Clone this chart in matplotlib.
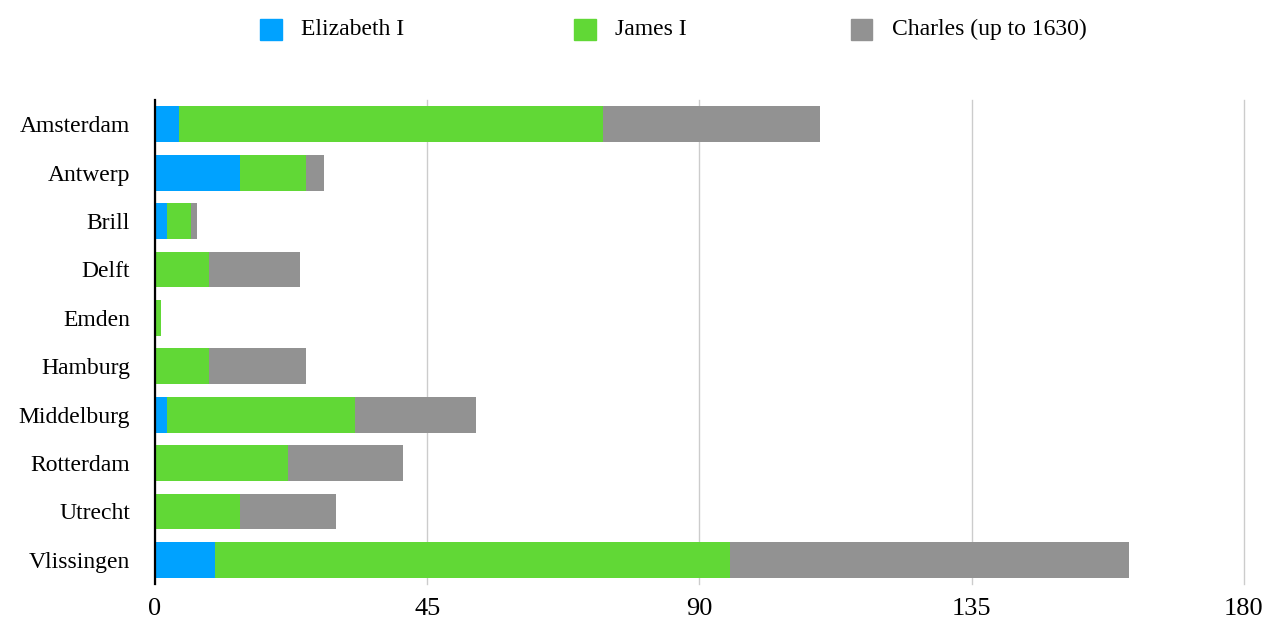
import matplotlib
matplotlib.use("Agg")
import matplotlib.pyplot as plt
import numpy as np

plt.rcParams['font.family'] = ['Liberation Serif', 'DejaVu Serif']

cities = ["Amsterdam", "Antwerp", "Brill", "Delft", "Emden", "Hamburg",
          "Middelburg", "Rotterdam", "Utrecht", "Vlissingen"]
elizabeth = [4, 14, 2, 0, 0, 0, 2, 0, 0, 10]
james = [70, 11, 4, 9, 1, 9, 31, 22, 14, 85]
charles = [36, 3, 1, 15, 0, 16, 20, 19, 16, 66]
series_names = ["Elizabeth I", "James I", "Charles (up to 1630)"]
colors = ["#00a2ff", "#61d836", "#929292"]
xticks = [0, 45, 90, 135, 180]

fig = plt.figure(figsize=(12.7, 6.18), dpi=100)
ax = fig.add_axes([0.122, 0.055, 0.8575, 0.783])

y = np.arange(len(cities))
left = np.zeros(len(cities))
handles = []
for vals, name, c in zip([elizabeth, james, charles], series_names, colors):
    h = ax.barh(y, vals, left=left, height=0.74, color=c, label=name, zorder=3)
    handles.append(h)
    left = left + np.array(vals)

ax.set_ylim(len(cities) - 0.5, -0.5)
ax.set_xlim(0, 180)
ax.set_xticks(xticks)
ax.set_xticklabels([str(t) for t in xticks], fontsize=19)
ax.set_yticks(y)
ax.set_yticklabels(cities, fontsize=17)
ax.tick_params(axis='both', length=0)
ax.tick_params(axis='x', pad=10)
ax.tick_params(axis='y', pad=18)
ax.xaxis.grid(True, color="#cccccc", linewidth=1, zorder=0)
for line in ax.get_xgridlines():
    line.set_clip_on(False)
for s in ["top", "right", "bottom"]:
    ax.spines[s].set_visible(False)
ax.spines["left"].set_color("black")
ax.spines["left"].set_linewidth(1.6)
ax.spines["left"].set_zorder(4)

for h, name, xpos in zip(handles, series_names, [0.205, 0.452, 0.670]):
    fig.patches.append(plt.Rectangle((xpos, 0.935), 0.017, 0.035, transform=fig.transFigure,
                                     color=h.patches[0].get_facecolor(), figure=fig))
    fig.text(xpos + 0.032, 0.952, name, fontsize=17, va='center', ha='left')

fig.savefig("out.png", dpi=100)
